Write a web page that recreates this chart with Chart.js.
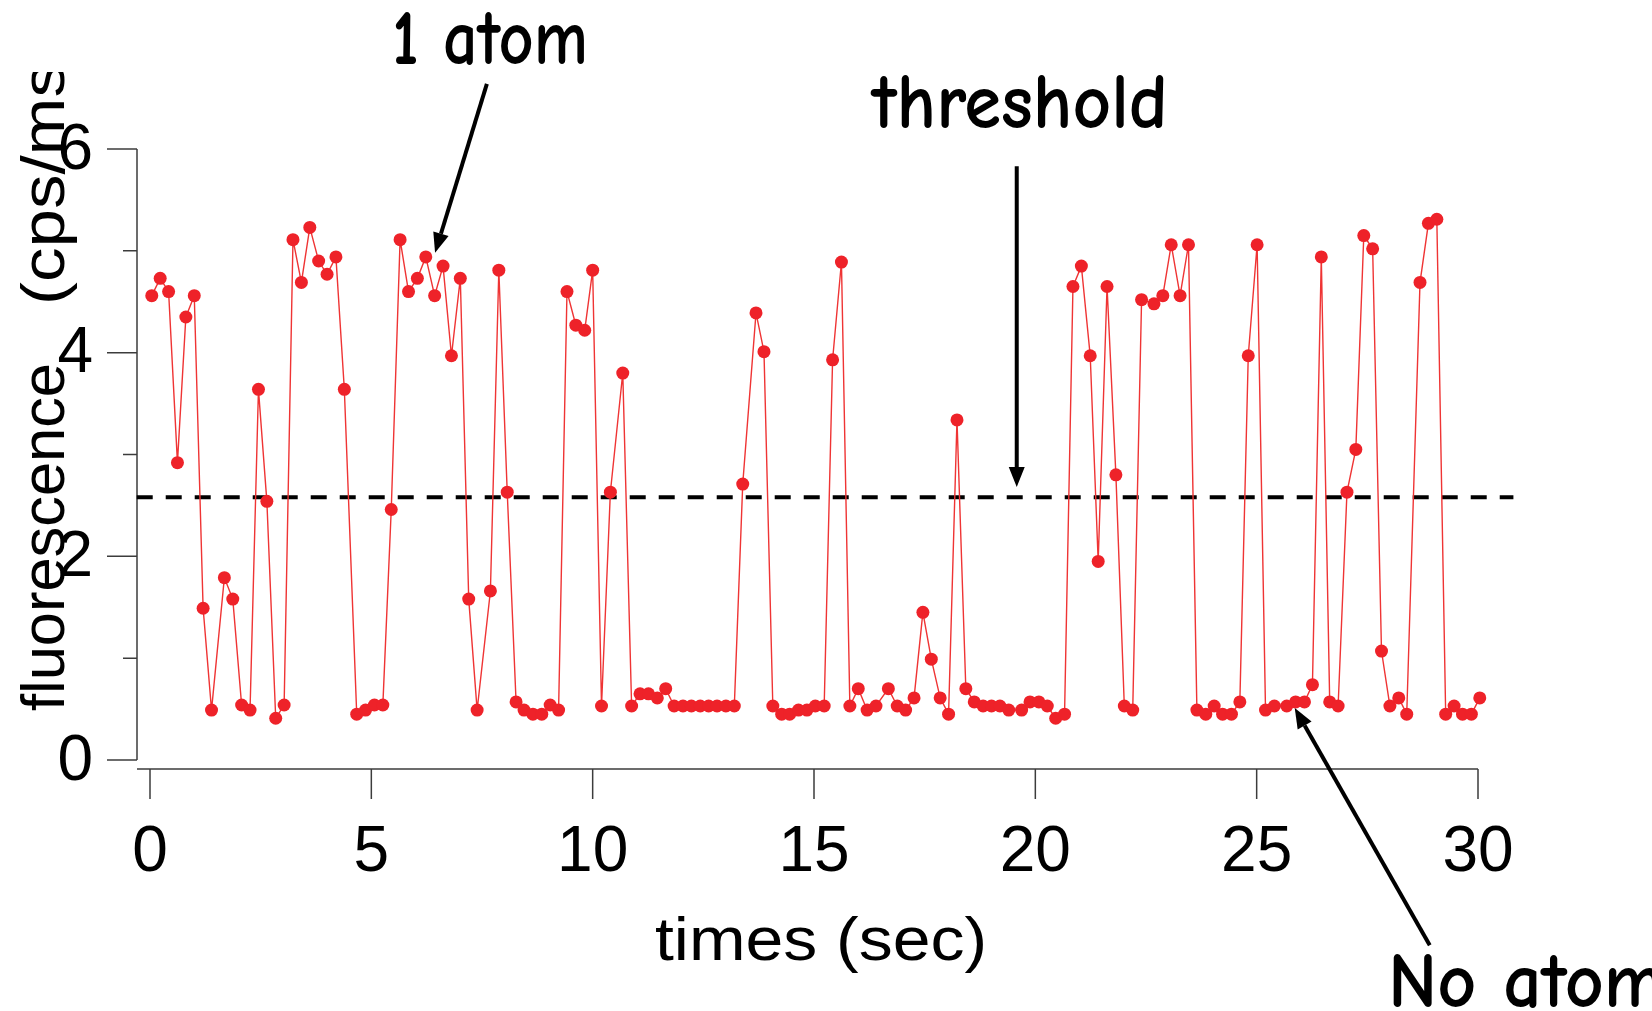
<!DOCTYPE html>
<html>
<head>
<meta charset="utf-8">
<title>fluorescence trace</title>
<script src="https://cdn.jsdelivr.net/npm/chart.js@4.4.1/dist/chart.umd.min.js"></script>
<style>
  html, body { margin: 0; padding: 0; background: #fff; }
  canvas { display: block; }
</style>
</head>
<body>
<canvas id="traceChart" width="1652" height="1011"></canvas>
<script>
// sample times (sec)
const times = [
  0.04, 0.23, 0.42, 0.62, 0.81, 1.00, 1.20, 1.39, 1.68, 1.87, 2.07, 2.26, 2.45, 2.64, 2.84, 3.03, 3.23, 3.42, 3.61, 3.81, 4.00, 4.20, 4.39, 4.67, 4.87,
  5.07, 5.26, 5.45, 5.65, 5.84, 6.04, 6.23, 6.43, 6.62, 6.81, 7.01, 7.20, 7.39, 7.69, 7.88, 8.07, 8.27, 8.45, 8.65, 8.85, 9.04, 9.23, 9.42, 9.62, 9.82,
  10.00, 10.20, 10.40, 10.68, 10.88, 11.07, 11.26, 11.46, 11.65, 11.84, 12.04, 12.23, 12.43, 12.62, 12.81, 13.01, 13.20, 13.39, 13.69, 13.87, 14.07, 14.27, 14.45, 14.65, 14.84,
  15.03, 15.23, 15.42, 15.62, 15.81, 16.00, 16.20, 16.40, 16.68, 16.88, 17.07, 17.26, 17.46, 17.65, 17.85, 18.04, 18.23, 18.43, 18.62, 18.82, 19.01, 19.20, 19.40, 19.69, 19.88,
  20.08, 20.27, 20.46, 20.66, 20.85, 21.04, 21.24, 21.42, 21.62, 21.82, 22.01, 22.20, 22.40, 22.68, 22.88, 23.07, 23.27, 23.46, 23.65, 23.85, 24.04, 24.23, 24.43, 24.62, 24.81,
  25.01, 25.20, 25.40, 25.68, 25.88, 26.08, 26.26, 26.46, 26.65, 26.84, 27.04, 27.24, 27.42, 27.62, 27.82, 28.01, 28.21, 28.39, 28.69, 28.88, 29.07, 29.27, 29.46, 29.65, 29.85, 30.04
];

// fluorescence (cps/ms)
const fluorescence = [
  4.56, 4.73, 4.60, 2.92, 4.35, 4.56, 1.49, 0.49, 1.79, 1.58, 0.54, 0.49, 3.64, 2.54, 0.41, 0.54, 5.11, 4.69, 5.23, 4.90, 4.77, 4.94, 3.64, 0.45, 0.49,
  0.54, 0.54, 2.46, 5.11, 4.60, 4.73, 4.94, 4.56, 4.85, 3.97, 4.73, 1.58, 0.49, 1.66, 4.81, 2.63, 0.57, 0.49, 0.45, 0.45, 0.54, 0.49, 4.60, 4.27, 4.22,
  4.81, 0.53, 2.63, 3.80, 0.53, 0.65, 0.65, 0.61, 0.70, 0.53, 0.53, 0.53, 0.53, 0.53, 0.53, 0.53, 0.53, 2.71, 4.39, 4.01, 0.53, 0.45, 0.45, 0.49, 0.49,
  0.53, 0.53, 3.93, 4.89, 0.53, 0.70, 0.49, 0.53, 0.70, 0.53, 0.49, 0.61, 1.45, 0.99, 0.61, 0.45, 3.34, 0.70, 0.57, 0.53, 0.53, 0.53, 0.49, 0.49, 0.57,
  0.57, 0.53, 0.41, 0.45, 4.65, 4.85, 3.97, 1.95, 4.65, 2.80, 0.53, 0.49, 4.52, 4.48, 4.56, 5.06, 4.56, 5.06, 0.49, 0.45, 0.53, 0.45, 0.45, 0.57, 3.97,
  5.06, 0.49, 0.53, 0.53, 0.57, 0.57, 0.74, 4.94, 0.57, 0.53, 2.63, 3.05, 5.15, 5.02, 1.07, 0.53, 0.61, 0.45, 4.69, 5.27, 5.31, 0.45, 0.53, 0.45, 0.45, 0.61
];

const thresholdLevel = [2.58];
const thresholdSpan = [-0.3, 30.8];

const xTicks = [0, 5, 10, 15, 20, 25, 30];
const yMajorTicks = [0, 2, 4, 6];
const yMinorTicks = [1, 3, 5];

const sansFont = '"Liberation Sans", Arial, sans-serif';
const noteFont = '"Comic Sans MS", "Comic Neue", Lato, sans-serif';

// draw text squeezed/stretched to a given width
function fitText(ctx, text, x, y, width) {
    const w = ctx.measureText(text).width;
    ctx.save();
    ctx.translate(x, y);
    ctx.scale(width / w, 1);
    ctx.textAlign = 'left';
    ctx.fillText(text, 0, 0);
    ctx.restore();
}

function arrow(ctx, x1, y1, x2, y2) {
    const ang = Math.atan2(y2 - y1, x2 - x1);
    const head = 20, half = 8;
    const bx = x2 - head * Math.cos(ang);
    const by = y2 - head * Math.sin(ang);
    ctx.beginPath();
    ctx.moveTo(x1, y1);
    ctx.lineTo(bx, by);
    ctx.stroke();
    ctx.beginPath();
    ctx.moveTo(x2, y2);
    ctx.lineTo(bx + half * Math.sin(ang), by - half * Math.cos(ang));
    ctx.lineTo(bx - half * Math.sin(ang), by + half * Math.cos(ang));
    ctx.closePath();
    ctx.fill();
}

// detached axes, like the original graph
const axesPlugin = {
    id: 'axesPlugin',
    beforeDatasetsDraw(chart) {
        const ctx = chart.ctx;
        const xs = chart.scales.x, ys = chart.scales.y;
        const axisX = xs.left - 13;
        const axisY = ys.bottom + 9;

        ctx.save();
        ctx.strokeStyle = '#3c3c3c';
        ctx.lineWidth = 1.5;

        // y axis
        ctx.beginPath();
        ctx.moveTo(axisX, ys.getPixelForValue(6));
        ctx.lineTo(axisX, ys.getPixelForValue(0));
        yMajorTicks.forEach(v => {
            const py = ys.getPixelForValue(v);
            ctx.moveTo(axisX - 30, py);
            ctx.lineTo(axisX, py);
        });
        yMinorTicks.forEach(v => {
            const py = ys.getPixelForValue(v);
            ctx.moveTo(axisX - 14, py);
            ctx.lineTo(axisX, py);
        });
        ctx.stroke();

        // x axis
        ctx.beginPath();
        ctx.moveTo(axisX, axisY);
        ctx.lineTo(xs.getPixelForValue(30), axisY);
        xTicks.forEach(v => {
            const px = xs.getPixelForValue(v);
            ctx.moveTo(px, axisY);
            ctx.lineTo(px, axisY + 30);
        });
        ctx.stroke();

        ctx.fillStyle = '#000';
        ctx.font = '64px ' + sansFont;
        ctx.textBaseline = 'middle';
        ctx.textAlign = 'center';
        xTicks.forEach(v => {
            ctx.fillText(String(v), xs.getPixelForValue(v), 853);
        });
        ctx.textAlign = 'right';
        yMajorTicks.forEach(v => {
            ctx.fillText(String(v), 93, ys.getPixelForValue(v) + 2);
        });

        // x title
        ctx.textBaseline = 'alphabetic';
        ctx.font = '62px ' + sansFont;
        fitText(ctx, 'times (sec)', 655, 960, 332);

        // y title, cut off at the top as in the original
        ctx.save();
        ctx.beginPath();
        ctx.rect(0, 72, 140, 1011 - 72);
        ctx.clip();
        ctx.translate(64, 711);
        ctx.rotate(-Math.PI / 2);
        ctx.font = '62px ' + sansFont;
        fitText(ctx, 'fluorescence', 0, 0, 348);
        fitText(ctx, '(cps/ms)', 406, 0, 265);
        ctx.restore();

        ctx.restore();
    },
    afterDraw(chart) {
        const ctx = chart.ctx;
        const xs = chart.scales.x, ys = chart.scales.y;
        const px = t => xs.getPixelForValue(t);
        const py = v => ys.getPixelForValue(v);

        ctx.save();
        ctx.fillStyle = '#000';
        ctx.strokeStyle = '#000';
        ctx.lineWidth = 4;
        ctx.textBaseline = 'alphabetic';

        ctx.font = 'bold 78px ' + noteFont;
        fitText(ctx, '1 atom', 392, 64, 196);
        fitText(ctx, 'threshold', 872, 128, 296);
        fitText(ctx, 'No atom', 1388, 1007, 276);

        arrow(ctx, px(7.61), py(6.64), px(6.44), py(4.98));
        arrow(ctx, px(19.58), py(5.83), px(19.58), py(2.68));
        arrow(ctx, px(28.91), py(-1.82), px(25.86), py(0.51));
        ctx.restore();
    }
};

const traceData = times.map((t, i) => ({ x: t, y: fluorescence[i] }));
const thresholdData = thresholdSpan.map(t => ({ x: t, y: thresholdLevel[0] }));

const ctx = document.getElementById('traceChart').getContext('2d');
const chart = new Chart(ctx, {
    type: 'line',
    data: {
        datasets: [{
            label: 'fluorescence',
            data: traceData,
            borderColor: '#ef3434',
            borderWidth: 1.4,
            pointRadius: 6.5,
            pointBackgroundColor: '#ee2229',
            pointBorderWidth: 0,
            tension: 0,
            clip: false,
            order: 1
        }, {
            label: 'threshold',
            data: thresholdData,
            borderColor: '#000',
            borderWidth: 4,
            borderDash: [16, 13],
            pointRadius: 0,
            clip: false,
            order: 2
        }]
    },
    options: {
        responsive: false,
        animation: false,
        devicePixelRatio: 1,
        layout: {
            padding: { left: 150, right: 174, top: 149, bottom: 251 }
        },
        plugins: {
            legend: { display: false },
            tooltip: { enabled: false }
        },
        scales: {
            x: { type: 'linear', min: 0, max: 30, display: false },
            y: { type: 'linear', min: 0, max: 6, display: false }
        }
    },
    plugins: [axesPlugin]
});
</script>
</body>
</html>
